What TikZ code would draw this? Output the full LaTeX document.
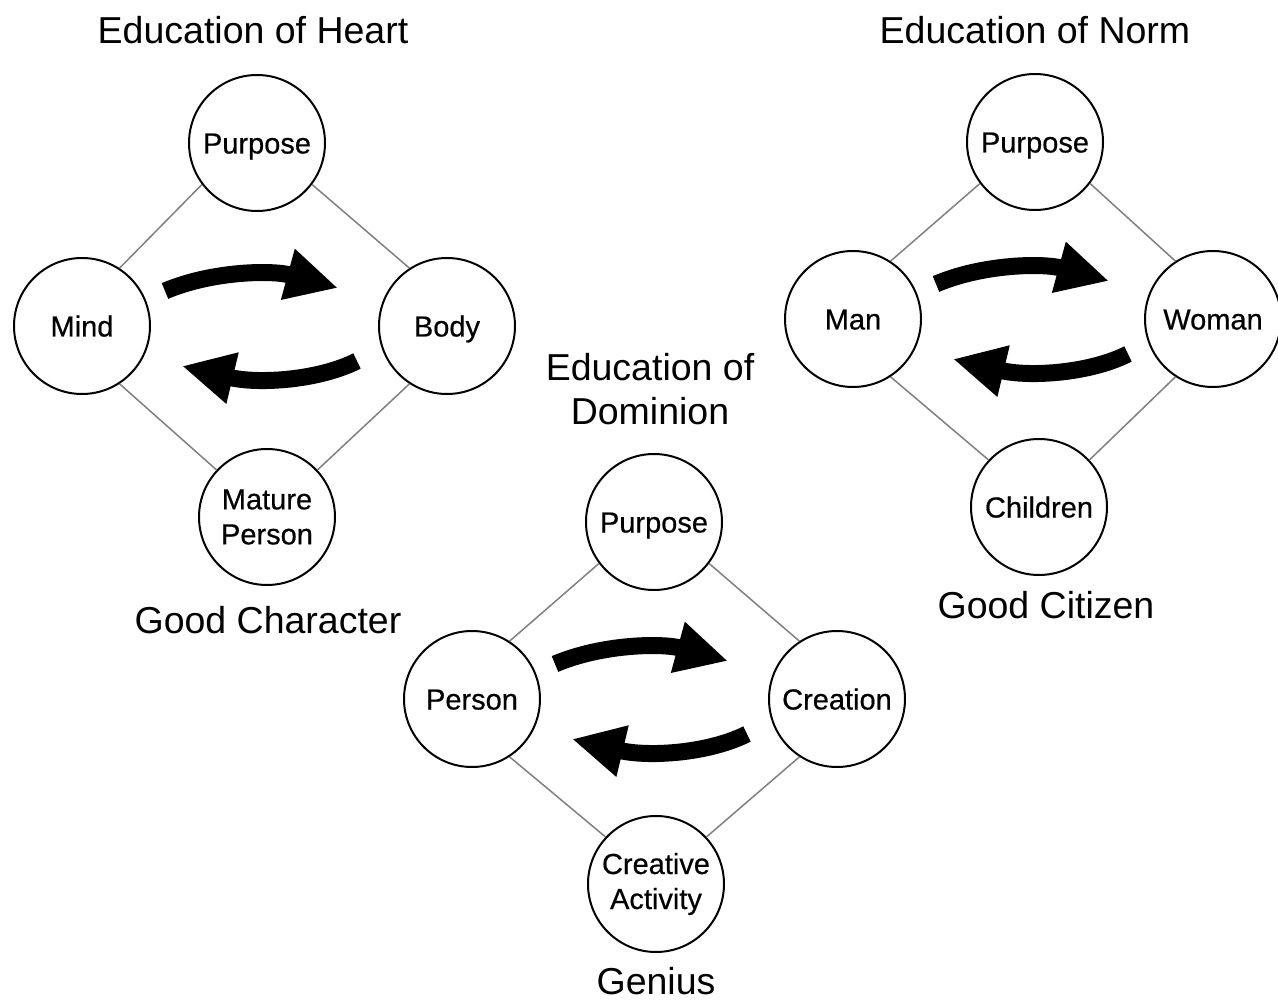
\documentclass[tikz,border=0pt]{standalone}
\usepackage{fontspec}
\setmainfont{Liberation Sans}
\newfontfamily\circfont[FakeBold=0.5]{Liberation Sans}
\usetikzlibrary{arrows.meta,calc}
\begin{document}
\begin{tikzpicture}[x=1pt,y=-1pt,
  circ/.style={circle,draw,line width=2pt,minimum size=136pt,inner sep=0pt,
    font=\circfont\fontsize{29}{35}\selectfont},
  circone/.style={circ,text height=21pt,text depth=0pt},
  circtwo/.style={circ,align=center},
  title/.style={font=\fontsize{37.5}{44}\selectfont,align=center,inner sep=0pt},
  link/.style={draw=black!50,line width=1.5pt},
  bigarrow/.style={line width=17pt,-{Triangle[length=52pt,width=49pt]}}
]
\useasboundingbox[fill=white] (0,0) rectangle (1278,1000);

\newcommand\cyclearrows[1]{%
  \draw[bigarrow] ($(#1)+(83,-35)$) .. controls ($(#1)+(130,-55)$) and ($(#1)+(190,-56)$) .. ($(#1)+(256,-38)$);
  \draw[bigarrow] ($(#1)+(275,35)$) .. controls ($(#1)+(235,55)$) and ($(#1)+(175,58)$) .. ($(#1)+(100,40)$);
}
\newcommand\diamondlinks[4]{% left, top, right, bottom
  \draw[link] (#1.57) -- (#2.217);
  \draw[link] (#2.323) -- (#3.123);
  \draw[link] (#1.303) -- (#4.137);
  \draw[link] (#4.43) -- (#3.237);
}

% Education of Heart
\node[title] (tHeart) at (253,30) {Education of Heart};
\node[circone] (purH) at (257,143) {Purpose};
\node[circone] (mindH) at (82,326) {Mind};
\node[circone] (bodyH) at (447,326) {Body};
\node[circtwo] (matH) at (267,517) {Mature\\Person};
\node[title] (gH) at (268,620) {Good Character};
\diamondlinks{mindH}{purH}{bodyH}{matH}
\cyclearrows{mindH}

% Education of Norm
\node[title] (tNorm) at (1035,30) {Education of Norm};
\node[circone] (purN) at (1035,142) {Purpose};
\node[circone] (manN) at (853,319) {Man};
\node[circone] (womN) at (1213,319) {Woman};
\node[circone] (chN) at (1039,507) {Children};
\node[title] (gN) at (1046,605) {Good Citizen};
\diamondlinks{manN}{purN}{womN}{chN}
\cyclearrows{manN}

% Education of Dominion
\node[title] (tDom) at (650,389) {Education of\\Dominion};
\node[circone] (purD) at (654,522) {Purpose};
\node[circone] (perD) at (472,699) {Person};
\node[circone] (creD) at (837,699) {Creation};
\node[circtwo] (actD) at (656,884) {Creative\\Activity};
\node[title] (gD) at (656,981) {Genius};
\diamondlinks{perD}{purD}{creD}{actD}
\cyclearrows{perD}
\end{tikzpicture}
\end{document}
